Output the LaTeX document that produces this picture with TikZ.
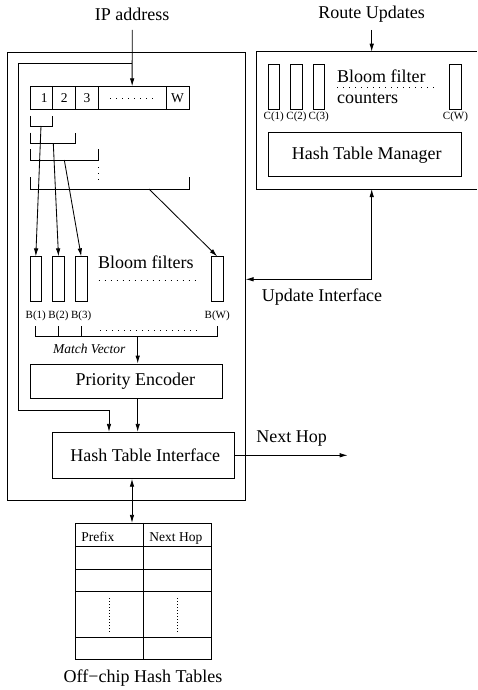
\documentclass[tikz,border=0pt]{standalone}
\usepackage{fontspec}
\setmainfont{Liberation Serif}
\usetikzlibrary{shapes, arrows.meta}
\tikzstyle{block} = [rectangle, draw, inner sep=0pt]
\tikzstyle{filter} = [rectangle, draw, minimum width=11.5pt, minimum height=45pt, inner sep=0pt]
\tikzstyle{cell} = [rectangle, draw, minimum height=22.6pt, inner sep=0pt, font=\fontsize{13.5}{15}\selectfont]
\tikzstyle{tag} = [inner sep=0pt, font=\fontsize{11}{12}\selectfont]
\tikzstyle{small} = [inner sep=0pt, font=\fontsize{13.5}{15}\selectfont]
\tikzstyle{dotline} = [dash pattern=on 1pt off 5pt]
\tikzstyle{tightdots} = [dash pattern=on 1pt off 2pt]

\begin{document}
\begin{tikzpicture}[x=1pt, y=-1pt, line width=0.85pt, >={Latex[length=8pt,width=4.5pt]},
	font=\fontsize{18}{21}\selectfont]
		\useasboundingbox (0,0) rectangle (477,690);
		%Place node
		\node [block, minimum width=238pt, minimum height=448pt] (chip) at (126,276) {};
		\node [inner sep=0pt] (ip) at (132.2,14) {IP address};
		\node [inner sep=0pt] (route) at (371.7,14) {Route Updates};

		% register
		\node [cell, minimum width=22.7pt] (r1) at (41.35,98) {\hspace{6pt}1};
		\node [cell, minimum width=23pt] (r2) at (64.2,98) {2};
		\node [cell, minimum width=22.6pt] (r3) at (87,98) {3};
		\node [cell, minimum width=67.7pt] (rdots) at (132.15,98) {};
		\node [cell, minimum width=23pt] (rw) at (177.5,98) {W};

		% bloom filters
		\node [filter] (b1) at (35.8,279.3) {};
		\node [filter] (b2) at (58.5,279.3) {};
		\node [filter] (b3) at (81.2,279.3) {};
		\node [filter] (bw) at (217.2,279.3) {};
		\node [inner sep=0pt] (bf) at (145.8,262.7) {Bloom filters};
		\node [tag] (lb1) at (35.8,315.7) {B(1)};
		\node [tag] (lb2) at (58.5,315.7) {B(2)};
		\node [tag] (lb3) at (81.2,315.7) {B(3)};
		\node [tag] (lbw) at (217.2,315.7) {B(W)};
		\node [small] (mvec) at (89.3,349) {\itshape Match Vector};

		\node [block, minimum width=192.7pt, minimum height=34.3pt] (pe) at (126.35,381.15) {\hspace{18pt}Priority Encoder};
		\node [block, minimum width=182pt, minimum height=46pt] (hti) at (143.3,455.3) {\hspace{4pt}Hash Table Interface};
		\node [inner sep=0pt] (nhop) at (291.7,439) {Next Hop};

		% right side
		\node [filter] (c1) at (273.8,86.7) {};
		\node [filter] (c2) at (296.5,86.7) {};
		\node [filter] (c3) at (318.8,86.7) {};
		\node [filter] (cw) at (455.5,86.7) {};
		\node [inner sep=0pt, anchor=west] (bfc) at (336.7,76.7) {Bloom filter};
		\node [inner sep=0pt, anchor=west] (cnt) at (336.7,98.7) {counters};
		\node [tag] (lc1) at (273.8,116.7) {C(1)};
		\node [tag] (lc2) at (296.5,116.7) {C(2)};
		\node [tag] (lc3) at (318.8,116.7) {C(3)};
		\node [tag] (lcw) at (455.5,116.7) {C(W)};
		\node [block, minimum width=192.7pt, minimum height=44pt] (htm) at (364.65,154.7) {\hspace{4pt}Hash Table Manager};
		\node [inner sep=0pt] (upd) at (322,297) {Update Interface};

		% off-chip table
		\node [block, minimum width=136.4pt, minimum height=136pt] (tbl) at (143.5,591.3) {};
		\node [small, anchor=base west] (hp) at (81,541) {Prefix};
		\node [small, anchor=base west] (hn) at (149,541) {Next Hop};
		\node [inner sep=0pt] (offchip) at (143,678) {Off−chip Hash Tables};

		\coordinate (tap) at (132.2,63.3);
		\coordinate (k1) at (41,126);
		\coordinate (k2) at (53.3,143.3);
		\coordinate (k3) at (64.3,160);
		\coordinate (kw) at (149,189);
		\coordinate (mv) at (137.7,336);
		\coordinate (nh) at (347.7,455.3);
		\coordinate (mgr) at (371.7,189);
		\coordinate (ui) at (245.5,279.3);

		%Draw edges
		\draw [->] ([yshift=-16pt]ip.center) -- (rdots.north);
		\draw [->] (tap) -- (18.3,63.3) |- (109,410) -- ([xshift=-34.3pt]hti.north);
		\draw (30,116) |- (52.7,126) -- (52.7,116);
		\draw (30,132.7) |- (75.7,143.3) -- (75.7,132.7);
		\draw (30,149.3) |- (98.3,160) -- (98.3,149.3);
		\draw (30,177.3) |- (189,189) -- (189,177.3);
		\draw [dotline] (98,167) -- (98,180);
		\draw [dotline] (110,98.3) -- (154,98.3);
		\draw [->] (k1) -- (b1.north);
		\draw [->] (k2) -- (b2.north);
		\draw [->] (k3) -- (b3.north);
		\draw [->] (kw) -- (bw.north);
		\draw [dotline] (98.5,280) -- (198,280);

		\draw (35.8,326) -- (35.8,336) -- (217.2,336) -- (217.2,326);
		\draw (58.5,326) -- (58.5,336);
		\draw (81.2,326) -- (81.2,336);
		\draw [dotline] (100,330) -- (198,330);
		\draw [->] (mv) -- (pe.north -| mv);
		\draw [->] (pe.south -| mv) -- (hti.north -| mv);
		\draw [->] (hti.east) -- (nh);
		\draw [<->] ([xshift=-11.3pt]hti.south) -- ([xshift=-11.5pt]tbl.north);

		\draw (477,51.7) -- (256,51.7) -- (256,189) -- (477,189);
		\draw [->] ([yshift=-16pt]route.center) -- (371.7,51.7);
		\draw [dotline] (337,87.3) -- (434,87.3);
		\draw [<->] (ui) -| (mgr);

		\draw (tbl.north) -- (tbl.south);
		\draw (75.3,546) -- (211.7,546);
		\draw (75.3,569) -- (211.7,569);
		\draw (75.3,591.7) -- (211.7,591.7);
		\draw (75.3,637) -- (211.7,637);
		\draw [tightdots] (109.3,598) -- (109.3,632);
		\draw [tightdots] (177.3,598) -- (177.3,632);

	\end{tikzpicture}
\end{document}
